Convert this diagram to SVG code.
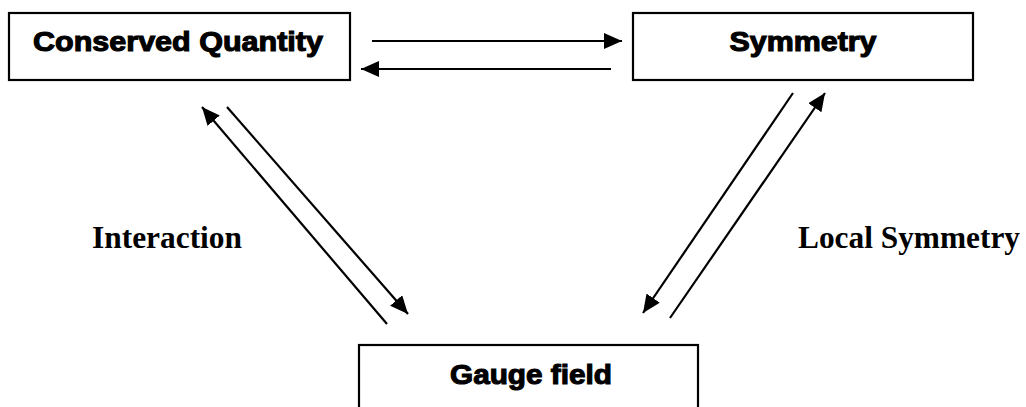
<svg xmlns="http://www.w3.org/2000/svg" width="1026" height="407" viewBox="0 0 1026 407">
<style>
.box{fill:#fff;stroke:#000;stroke-width:2.2}
.nt{font-family:"Liberation Sans",Arial,sans-serif;font-weight:bold;font-size:27px;fill:#000;stroke:#000;stroke-width:1.1;text-anchor:middle}
.lbl{font-family:"Liberation Serif","Times New Roman",serif;font-weight:bold;font-size:32px;fill:#000}
.c{stroke:#000;stroke-width:2.2;fill:none;marker-end:url(#ah)}
</style>
<defs>
<marker id="ah" markerUnits="userSpaceOnUse" markerWidth="20" markerHeight="18" refX="18" refY="8" orient="auto">
<path d="M0,0 L18,8 L0,16 z" fill="#000"/>
</marker>
</defs>
<rect width="1026" height="407" fill="#fff"/>
<g id="node-conserved">
<rect class="box" x="9" y="13" width="341" height="67"/>
<text class="nt" x="178" y="51" textLength="290" lengthAdjust="spacingAndGlyphs">Conserved Quantity</text>
</g>
<g id="node-symmetry">
<rect class="box" x="633" y="13" width="340" height="67"/>
<text class="nt" x="803" y="51" textLength="147" lengthAdjust="spacingAndGlyphs">Symmetry</text>
</g>
<g id="node-gauge">
<rect class="box" x="359" y="345" width="339" height="80"/>
<text class="nt" x="531" y="384" textLength="162" lengthAdjust="spacingAndGlyphs">Gauge field</text>
</g>
<g id="connectors">
<line class="c" x1="372" y1="41" x2="622" y2="41"/>
<line class="c" x1="611" y1="69" x2="361" y2="69"/>
<line class="c" x1="387" y1="324" x2="202" y2="107"/>
<line class="c" x1="227" y1="107" x2="408" y2="314"/>
<line class="c" x1="793" y1="93" x2="643" y2="313"/>
<line class="c" x1="670" y1="318" x2="825" y2="93"/>
</g>
<g id="labels">
<text class="lbl" x="92" y="248" textLength="150" lengthAdjust="spacingAndGlyphs">Interaction</text>
<text class="lbl" x="798" y="248" textLength="222" lengthAdjust="spacingAndGlyphs">Local Symmetry</text>
</g>
</svg>
